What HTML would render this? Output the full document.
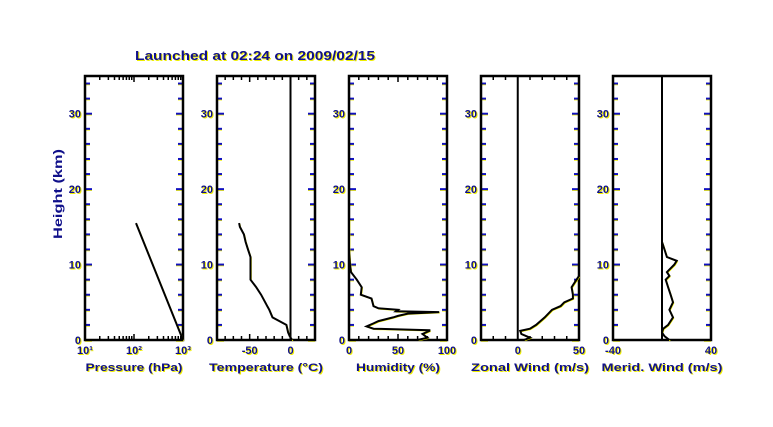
<!DOCTYPE html>
<html><head><meta charset="utf-8"><style>
html,body{margin:0;padding:0;background:#fff;}
svg{display:block;font-family:"Liberation Sans",sans-serif;font-weight:bold;}
</style></head><body>
<svg id="c" width="773" height="427" viewBox="0 0 773 427">
<text x="136" y="61" fill="#ee0" font-size="12.5" textLength="240" lengthAdjust="spacingAndGlyphs">Launched at 02:24 on 2009/02/15</text>
<text x="135" y="60" fill="#10108a" font-size="12.5" textLength="240" lengthAdjust="spacingAndGlyphs">Launched at 02:24 on 2009/02/15</text>
<text transform="translate(62,194) rotate(-90)" text-anchor="middle" fill="#10108a" font-size="12" textLength="90" lengthAdjust="spacingAndGlyphs">Height (km)</text>
</svg>
<script>
// data
const heightTicks=[0,10,20,30];
const pressH=[15.5,0];
const pressV=[110,1000];
const tempH=[0,0.5,1,2,3,4,4.4,5,6,7,8,9,10,11,12,13,14,15,15.5];
const tempV=[2,-1,-3,-5,-22,-26,-28,-31,-36,-42,-49,-49,-49,-49,-52,-55,-57,-62,-63];
const humH=[0,0.3,0.8,1.2,1.3,1.5,1.8,2.2,2.5,3,3.2,3.5,3.7,3.8,4,4.2,4.5,5.5,6,7,8,9,10,12,16];
const humV=[70,80,75,82,82,25,18,25,30,45,50,60,92,48,50,30,25,23,12,13,8,2,1,0,0];
const zonH=[0,0.3,0.8,1.2,1.5,2,3,4,4.5,5,5.5,6,7,8,8.5];
const zonV=[5,10,3,2,10,15,22,28,35,38,45,45,44,48,50];
const merH=[0,0.5,1,1.5,2,3,4,5,6,7,8,8.5,9,10,10.5,11,12,13];
const merV=[6,2,0,1,5,9,6,9,7,5,3,6,4,10,12,4,2,0];
const xlabels=["Pressure (hPa)","Temperature (°C)","Humidity (%)","Zonal Wind (m/s)","Merid. Wind (m/s)"];
const xlabelW=[97,114,84,118,121];

const svg=document.getElementById('c');
const NS='http://www.w3.org/2000/svg';
const T=76,B=340,W=98;
const y=h=>B-(B-T)*h/35;
function mk(tag,at){const e=document.createElementNS(NS,tag);for(const k in at)e.setAttribute(k,at[k]);svg.appendChild(e);return e;}
function txt(x,yy,s,anchor,name,len){
  const a1={x:x+1,y:yy+1,fill:'#ee0','font-size':11,'text-anchor':anchor};
  const a2={x:x,y:yy,fill:'#10108a','font-size':11,'text-anchor':anchor};
  if(len){a1.textLength=len;a1.lengthAdjust='spacingAndGlyphs';a2.textLength=len;a2.lengthAdjust='spacingAndGlyphs';}
  const sh=mk('text',a1);sh.textContent=s;
  
  
  const e=mk('text',a2);e.textContent=s;
  
  
}
const panels=[
 {L:85,sx:v=>85+W*(Math.log10(v)-1)/2,ticks:[[10,'10¹'],[100,'10²'],[1000,'10³']],H:pressH,V:pressV,log:true},
 {L:217,sx:v=>217+W*(v+90)/120,ticks:[[-50,'-50'],[0,'0']],H:tempH,V:tempV,zero:0,minor:[-80,-70,-60,-50,-40,-30,-20,-10,0,10,20]},
 {L:349,sx:v=>349+W*v/100,ticks:[[0,'0'],[50,'50'],[100,'100']],H:humH,V:humV,minor:[10,20,30,40,50,60,70,80,90]},
 {L:481,sx:v=>481+W*(v+30)/80,ticks:[[0,'0'],[50,'50']],H:zonH,V:zonV,zero:0,minor:[-20,-10,0,10,20,30,40]},
 {L:613,sx:v=>613+W*(v+40)/80,ticks:[[-40,'-40'],[40,'40']],H:merH,V:merV,zero:0,minor:[]}
];
panels.forEach((p,i)=>{
  const R=p.L+W;
  for(let h=0;h<=34;h+=2){
    const len=(h%10===0)?7:5;
    [[p.L,p.L+len],[R-len,R]].forEach(([a,b])=>{
      const s=mk('line',{x1:a,x2:b,y1:y(h)+1,y2:y(h)+1,stroke:'#ee0','stroke-width':1.5});
      
      
      const t=mk('line',{x1:a,x2:b,y1:y(h),y2:y(h),stroke:'#1010c0','stroke-width':2});
      
      
    });
  }
  heightTicks.forEach(h=>txt(p.L-4,y(h)+4,String(h),'end','y-tick-label'));
  let minors=[];
  if(p.log){for(let d=10;d<1000;d*=10)for(let k=1;k<10;k++)minors.push(d*k);minors.push(1000);}
  else minors=p.minor;
  minors.forEach(v=>{
    const x=p.sx(v);const major=p.ticks.some(t=>t[0]===v)||(p.log&&[10,100,1000].includes(v));
    [[B,B-(major?6:4)],[T,T+(major?6:4)]].forEach(([a,b])=>{
      const e=mk('line',{x1:x,x2:x,y1:a,y2:b,stroke:'#000','stroke-width':1.5});
      
      
    });
  });
  p.ticks.forEach(([v,s])=>txt(p.sx(v),B+14,s,'middle','x-tick-label'));
  txt(p.L+W/2,B+31,xlabels[i],'middle','x-axis-title',xlabelW[i]);
  if(p.zero!==undefined){
    const z=mk('line',{x1:p.sx(0),x2:p.sx(0),y1:T,y2:B,stroke:'#000','stroke-width':2});
    
    
  }
  const fr=mk('rect',{x:p.L,y:T,width:W,height:B-T,fill:'none',stroke:'#000','stroke-width':2.5});
  
  
  const pts=p.H.map((h,k)=>p.sx(p.V[k]).toFixed(1)+','+y(h).toFixed(1)).join(' ');
  const sh=mk('polyline',{points:pts,fill:'none',stroke:'#ee0','stroke-width':1,transform:'translate(0.8,0.8)'});
  
  
  const pl=mk('polyline',{points:pts,fill:'none',stroke:'#000','stroke-width':2});
  
  
});
</script>
</body></html>
